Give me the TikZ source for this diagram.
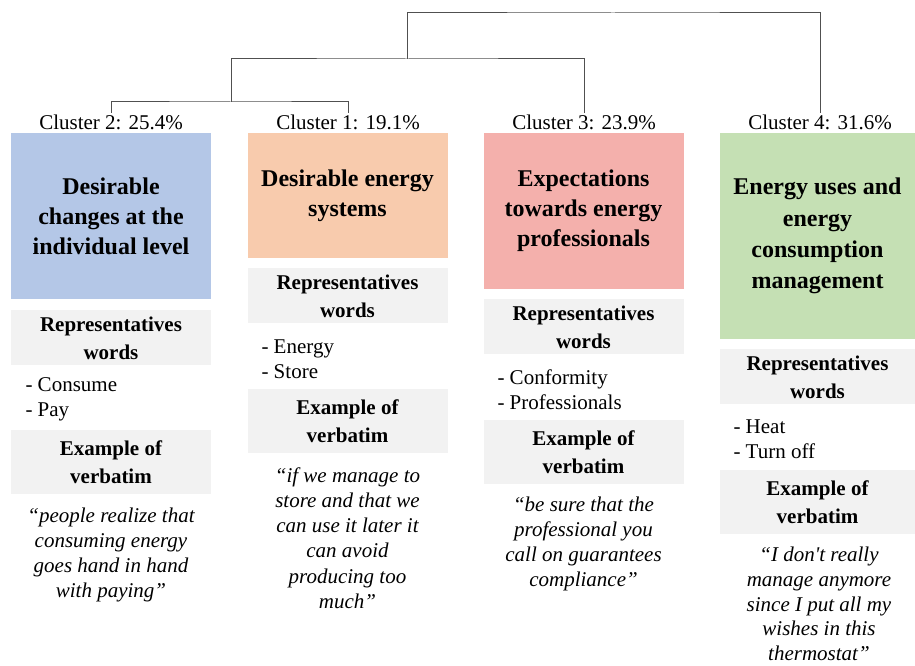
\documentclass[tikz,border=0pt]{standalone}
\usepackage{fontspec}
\setmainfont{Liberation Serif}

\definecolor{boxBlue}{RGB}{180,199,231}
\definecolor{boxOrange}{RGB}{248,203,173}
\definecolor{boxPink}{RGB}{244,176,172}
\definecolor{boxGreen}{RGB}{197,224,180}
\definecolor{boxGrey}{RGB}{242,242,242}
\definecolor{treeGrey}{RGB}{80,80,80}

\tikzset{every picture/.style={line width=0.75pt}}
\tikzset{
  titlebox/.style={inner sep=0pt, align=center, minimum width=150pt, font=\fontsize{18}{22.5}\selectfont\bfseries},
  headbox/.style={fill=boxGrey, inner sep=0pt, align=center, minimum width=150pt, minimum height=41.25pt, font=\fontsize{15.75}{21}\selectfont\bfseries},
  exbox/.style={headbox, minimum height=48pt},
  wordlist/.style={inner sep=0pt, anchor=west, align=left, font=\fontsize{15.75}{19}\selectfont},
  quote/.style={inner sep=0pt, align=center, font=\fontsize{15.75}{18.9}\selectfont\itshape},
  clabel/.style={fill=white, inner sep=1pt, font=\fontsize{15.75}{18}\selectfont},
  tree/.style={draw=treeGrey, line width=0.75pt}
}

\begin{document}
\begin{tikzpicture}[x=0.75pt,y=0.75pt,yscale=-1,xscale=1]
	\useasboundingbox (0,0) rectangle (915,666);

	% Cluster 2
	\node [titlebox, fill=boxBlue, minimum height=124.5pt] (t2) at (111,216) {Desirable\\changes at the\\individual level};
	\node [headbox] (r2) at (111,338) {Representatives\\words};
	\node [wordlist] (w2) at (25,399.5) {- Consume\\- Pay};
	\node [exbox] (e2) at (111,462) {Example of\\verbatim};
	\node [quote] (q2) at (111,555) {``people realize that\\consuming energy\\goes hand in hand\\with paying''};

	% Cluster 1
	\node [titlebox, fill=boxOrange, minimum height=93.75pt] (t1) at (347.5,195.5) {Desirable energy\\systems};
	\node [headbox] (r1) at (347.5,296) {Representatives\\words};
	\node [wordlist] (w1) at (261,359) {- Energy\\- Store};
	\node [exbox] (e1) at (347.5,421) {Example of\\verbatim};
	\node [quote] (q1) at (347.5,538) {``if we  manage to\\store and that we\\can use it later it\\can avoid\\producing too\\much''};

	% Cluster 3
	\node [titlebox, fill=boxPink, minimum height=117pt] (t3) at (583.5,211) {Expectations\\towards  energy\\professionals};
	\node [headbox] (r3) at (583.5,327) {Representatives\\words};
	\node [wordlist] (w3) at (497,389.5) {- Conformity\\- Professionals};
	\node [exbox] (e3) at (583.5,452) {Example of\\verbatim};
	\node [quote] (q3) at (583.5,544) {``be sure that the\\professional you\\call on guarantees\\compliance''};

	% Cluster 4
	\node [titlebox, fill=boxGreen, minimum width=146.25pt, minimum height=154.5pt, font=\fontsize{18}{23.4}\selectfont\bfseries] (t4) at (817.5,236) {Energy uses and\\energy\\consumption\\management};
	\node [headbox, minimum width=146.25pt] (r4) at (817.5,377) {Representatives\\words};
	\node [wordlist] (w4) at (733,439.5) {- Heat\\- Turn off};
	\node [exbox, minimum width=146.25pt] (e4) at (817.5,502) {Example of\\verbatim};
	\node [quote, font=\fontsize{15.75}{18.6}\selectfont\itshape] (q4) at (819,604) {``I don\textquotesingle t really\\manage anymore\\since I put all my\\wishes in this\\thermostat''};

	% Cluster labels
	\node [clabel] (c2) at (111,122) {Cluster 2: 25.4\%};
	\node [clabel] (c1) at (348,122) {Cluster 1: 19.1\%};
	\node [clabel] (c3) at (584,122) {Cluster 3: 23.9\%};
	\node [clabel] (c4) at (820,122) {Cluster 4: 31.6\%};

	% Dendrogram
	\coordinate (j21) at (231,102);
	\coordinate (j213) at (407,59);
	\coordinate (root) at (613,13);
	\draw [tree] (c2.north) |- (j21) -| (c1.north);
	\draw [tree] (j21) |- (j213) -| (c3.north);
	\draw [tree] (j213) |- (root) -| (c4.north);

\end{tikzpicture}
\end{document}
